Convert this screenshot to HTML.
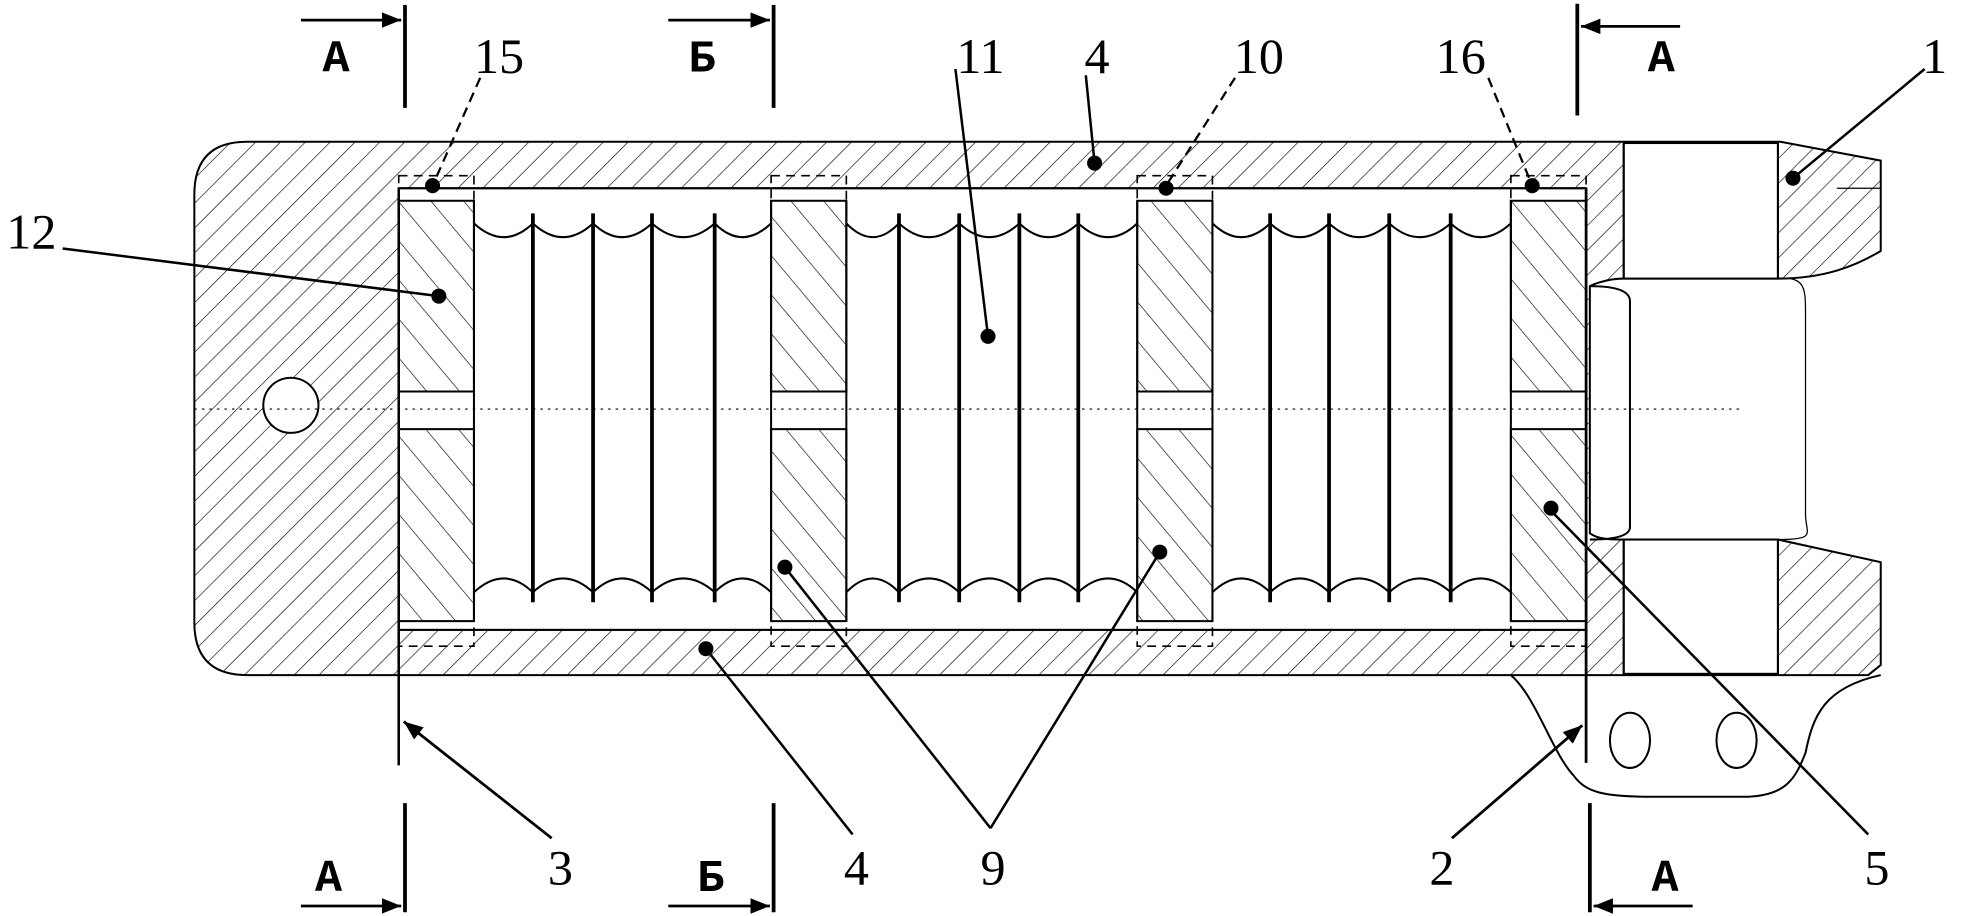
<!DOCTYPE html>
<html><head><meta charset="utf-8"><style>html,body{margin:0;padding:0;background:#fff}svg{display:block}</style></head>
<body>
<svg width="1966" height="916" viewBox="0 0 1568 730" preserveAspectRatio="none" xmlns="http://www.w3.org/2000/svg">
<defs>
<pattern id="h1" width="14" height="14" patternUnits="userSpaceOnUse" patternTransform="rotate(45)">
<line x1="0" y1="0" x2="0" y2="14" stroke="#000" stroke-width="1"/></pattern>
<pattern id="h2" width="20" height="20" patternUnits="userSpaceOnUse" patternTransform="rotate(-40)">
<line x1="0" y1="0" x2="0" y2="20" stroke="#000" stroke-width="1"/></pattern>
<marker id="ar" viewBox="0 0 10 10" refX="10" refY="5" markerWidth="7" markerHeight="7" orient="auto"><path d="M0,1 L10,5 L0,9 z" fill="#000"/></marker>
</defs>
<g fill="none" stroke="#000" stroke-width="1.6">
<path d="M1205,538 C1225,555 1238,600 1255,618 C1265,632 1280,635 1320,635 L1390,635 C1425,635 1432,620 1440,600 C1446,570 1455,548 1500,538" />
<ellipse cx="1300" cy="590" rx="16" ry="22"/><ellipse cx="1385" cy="590" rx="16" ry="22"/>
<path d="M197,113 H1420 L1500,128 V200 C1480,212 1455,222 1418,222 H1295 C1280,222 1268,228 1268,228 V425 C1275,430 1285,430 1295,430 H1418 L1500,448 V530 L1490,538 H197 Q155,538 155,496 V155 Q155,113 197,113 Z" fill="url(#h1)"/>
<rect x="1295" y="114" width="123" height="108" fill="#fff"/>
<rect x="1295" y="430" width="123" height="107" fill="#fff"/>
<path d="M1272,228 H1295 V425 H1272" fill="#fff" stroke="none"/>
<path d="M1268,228 Q1300,228 1300,240 V420 Q1300,430 1268,430"/>
<path d="M1418,222 C1440,220 1440,230 1440,250 V410 C1440,425 1450,430 1418,430" stroke-width="1"/>
<line x1="1295" y1="113" x2="1295" y2="222"/><line x1="1418" y1="113" x2="1418" y2="222"/>
<line x1="1295" y1="430" x2="1295" y2="538"/><line x1="1418" y1="430" x2="1418" y2="538"/>
<line x1="1465" y1="150" x2="1500" y2="150" stroke-width="1"/><line x1="1465" y1="345" x2="1500" y2="345" stroke-width="0"/>
<rect x="318" y="150" width="947" height="352" fill="#fff"/>
<g>
<rect x="318" y="160" width="60" height="152" fill="url(#h2)"/><rect x="318" y="342" width="60" height="153" fill="url(#h2)"/>
<rect x="615" y="160" width="60" height="152" fill="url(#h2)"/><rect x="615" y="342" width="60" height="153" fill="url(#h2)"/>
<rect x="907" y="160" width="60" height="152" fill="url(#h2)"/><rect x="907" y="342" width="60" height="153" fill="url(#h2)"/>
<rect x="1205" y="160" width="60" height="152" fill="url(#h2)"/><rect x="1205" y="342" width="60" height="153" fill="url(#h2)"/>
</g>
<g stroke-dasharray="7,5" stroke-width="1.3">
<rect x="318" y="140" width="60" height="375"/><rect x="615" y="140" width="60" height="375"/>
<rect x="907" y="140" width="60" height="375"/><rect x="1205" y="140" width="60" height="375"/>
</g>
<line x1="318" y1="150" x2="1265" y2="150"/><line x1="318" y1="502" x2="1265" y2="502"/>
<path d="M378,178 q24,22 47,0 q24,22 48,0 q23,22 47,0 q25,22 50,0 q22,22 45,0"/>
<path d="M675,178 q21,22 42,0 q24,22 48,0 q24,22 48,0 q23,22 47,0 q24,22 47,0"/>
<path d="M967,178 q23,22 46,0 q24,22 47,0 q24,22 48,0 q24,22 49,0 q24,22 48,0"/>
<path d="M378,472 q24,-22 47,0 q24,-22 48,0 q23,-22 47,0 q25,-22 50,0 q22,-22 45,0"/>
<path d="M675,472 q21,-22 42,0 q24,-22 48,0 q24,-22 48,0 q23,-22 47,0 q24,-22 47,0"/>
<path d="M967,472 q23,-22 46,0 q24,-22 47,0 q24,-22 48,0 q24,-22 49,0 q24,-22 48,0"/>
<g stroke-width="3">
<line x1="425" y1="170" x2="425" y2="480"/><line x1="473" y1="170" x2="473" y2="480"/><line x1="520" y1="170" x2="520" y2="480"/><line x1="570" y1="170" x2="570" y2="480"/>
<line x1="717" y1="170" x2="717" y2="480"/><line x1="765" y1="170" x2="765" y2="480"/><line x1="813" y1="170" x2="813" y2="480"/><line x1="860" y1="170" x2="860" y2="480"/>
<line x1="1013" y1="170" x2="1013" y2="480"/><line x1="1060" y1="170" x2="1060" y2="480"/><line x1="1108" y1="170" x2="1108" y2="480"/><line x1="1157" y1="170" x2="1157" y2="480"/>
</g>
<line x1="378" y1="160" x2="378" y2="495"/><line x1="615" y1="160" x2="615" y2="495"/><line x1="675" y1="160" x2="675" y2="495"/><line x1="907" y1="160" x2="907" y2="495"/><line x1="967" y1="160" x2="967" y2="495"/><line x1="1205" y1="160" x2="1205" y2="495"/>
<circle cx="232" cy="323" r="22" fill="#fff"/>
<line x1="155" y1="326" x2="1390" y2="326" stroke-dasharray="2,4" stroke-width="0.8"/>
<line x1="318" y1="150" x2="318" y2="610" stroke-width="2"/>
<line x1="1265" y1="150" x2="1265" y2="608" stroke-width="2.2"/>
<g stroke-width="3">
<line x1="323" y1="4" x2="323" y2="86"/><line x1="617" y1="4" x2="617" y2="86"/><line x1="1258" y1="3" x2="1258" y2="92"/>
<line x1="323" y1="640" x2="323" y2="727"/><line x1="617" y1="640" x2="617" y2="727"/><line x1="1268" y1="640" x2="1268" y2="727"/>
</g>
<g stroke-width="2.2" marker-end="url(#ar)">
<line x1="240" y1="16" x2="320" y2="16"/><line x1="533" y1="16" x2="614" y2="16"/><line x1="1340" y1="21" x2="1261" y2="21"/>
<line x1="240" y1="722" x2="320" y2="722"/><line x1="533" y1="722" x2="614" y2="722"/><line x1="1350" y1="722" x2="1271" y2="722"/>
<line x1="440" y1="668" x2="322" y2="575"/><line x1="1158" y1="668" x2="1262" y2="578"/>
</g>
<g stroke-width="2">
<line x1="762" y1="55" x2="788" y2="268"/><line x1="866" y1="60" x2="873" y2="130"/>
<line x1="1535" y1="55" x2="1430" y2="142"/><line x1="50" y1="198" x2="350" y2="236"/>
<line x1="680" y1="665" x2="563" y2="517"/><line x1="790" y1="660" x2="626" y2="452"/><line x1="790" y1="660" x2="925" y2="440"/>
<line x1="1490" y1="665" x2="1235" y2="405"/>
</g>
<g stroke-width="1.8" stroke-dasharray="8,5">
<line x1="383" y1="62" x2="345" y2="148"/><line x1="985" y1="62" x2="930" y2="148"/><line x1="1187" y1="62" x2="1222" y2="148"/>
</g>
</g>
<g fill="#000">
<circle cx="345" cy="148" r="6"/><circle cx="788" cy="268" r="6"/><circle cx="873" cy="130" r="6"/><circle cx="930" cy="150" r="6"/><circle cx="1222" cy="148" r="6"/><circle cx="1430" cy="142" r="6"/><circle cx="350" cy="236" r="6"/><circle cx="563" cy="517" r="6"/><circle cx="626" cy="452" r="6"/><circle cx="925" cy="440" r="6"/><circle cx="1237" cy="405" r="6"/>
</g>
<g font-family="Liberation Serif, serif" font-size="40" fill="#000" text-anchor="middle">
<g font-weight="bold" font-size="36" font-family="Liberation Mono, monospace">
<text x="268" y="57">А</text><text x="560" y="57">Б</text><text x="1325" y="57">А</text>
<text x="262" y="710">А</text><text x="567" y="710">Б</text><text x="1328" y="710">А</text>
</g>
<text x="398" y="58">15</text><text x="782" y="58">11</text><text x="875" y="58">4</text><text x="1004" y="58">10</text><text x="1165" y="58">16</text><text x="1543" y="58">1</text>
<text x="25" y="198">12</text>
<text x="447" y="705">3</text><text x="683" y="705">4</text><text x="792" y="705">9</text><text x="1150" y="705">2</text><text x="1497" y="705">5</text>
</g>
</svg>
</body></html>
